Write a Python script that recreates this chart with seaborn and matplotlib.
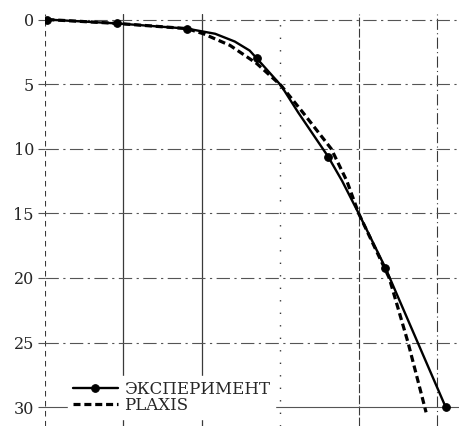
import matplotlib
matplotlib.use("Agg")
import matplotlib.pyplot as plt
import seaborn as sns
import pandas as pd

# ---- data ----
exp_x = [0.03, 0.92, 1.81, 2.17, 2.42, 2.61, 2.70, 3.01, 3.23, 3.61, 3.79, 4.00, 4.34, 5.11]
exp_y = [0.0, 0.3, 0.7, 1.1, 1.7, 2.4, 3.0, 5.1, 7.2, 10.6, 12.5, 15.0, 19.2, 30.0]
exp_marker_idx = [0, 1, 2, 6, 9, 12, 13]
plaxis_x = [0.03, 0.92, 1.81, 2.02, 2.36, 2.70, 3.01, 3.29, 3.65, 3.85, 4.00, 4.39, 4.63, 4.86]
plaxis_y = [0.0, 0.3, 0.7, 1.1, 2.0, 3.4, 5.1, 7.2, 10.0, 12.5, 15.0, 20.0, 25.0, 30.4]
series_labels = ["ЭКСПЕРИМЕНТ", "PLAXIS"]
y_ticks = [0, 5, 10, 15, 20, 25, 30]
x_grid = [0, 1, 2, 3, 4, 5]

sns.set_theme(style="white")
plt.rcParams["font.family"] = ["DejaVu Serif"]

fig = plt.figure(figsize=(4.59, 4.26), dpi=100)
ax = fig.add_axes([45 / 459, 0, 414 / 459, 412 / 426])

df_exp = pd.DataFrame({"x": exp_x, "y": exp_y})
df_pl = pd.DataFrame({"x": plaxis_x, "y": plaxis_y})

sns.lineplot(data=df_exp, x="x", y="y", ax=ax, sort=False, estimator=None,
             color="black", lw=1.7, marker="o", markersize=5.5,
             markeredgecolor="black", markerfacecolor="black",
             markevery=exp_marker_idx, label=series_labels[0], zorder=5)
sns.lineplot(data=df_pl, x="x", y="y", ax=ax, sort=False, estimator=None,
             color="black", lw=2.3, label=series_labels[1], zorder=4)
ax.lines[1].set_dashes((2.2, 1.2))

# grid lines
grid_c = "#3a3a3a"
v_styles = [(0, (5, 4)), "-", "-", (0, (1, 8)), (0, (8, 2)), (0, (10, 3, 1, 3))]
v_lw = [0.8, 0.9, 0.9, 1.0, 0.8, 0.8]
for xv, ls, lw in zip(x_grid, v_styles, v_lw):
    ax.axvline(xv, color=grid_c, ls=ls, lw=lw, zorder=1)
for yv in y_ticks:
    if yv == 30:
        ax.axhline(yv, color="#555555", ls="-", lw=0.8, zorder=1)
    else:
        ax.axhline(yv, color="#555555", ls=(0, (12, 4, 2, 4)), lw=0.8, zorder=1)

ax.set_xlim(0, 5.28)
ax.set_ylim(31.46, -0.43)
ax.set_yticks(y_ticks)
ax.set_yticklabels([str(v) for v in y_ticks])
ax.set_xticks([])
ax.tick_params(axis="y", length=5, width=0.8, color="#555555", pad=3,
               labelsize=11.5, left=True)
ax.set_xlabel("")
ax.set_ylabel("")
for s in ax.spines.values():
    s.set_visible(False)

leg = ax.legend(loc="lower left", bbox_to_anchor=(0.055, 0.018), frameon=True,
                fontsize=12, handlelength=2.7, handletextpad=0.4,
                labelspacing=-0.1, borderpad=0.3, borderaxespad=0)
leg.get_frame().set_facecolor("white")
leg.get_frame().set_edgecolor("white")
leg.get_frame().set_alpha(1)
leg.set_zorder(10)

fig.savefig("out.png", dpi=100)
